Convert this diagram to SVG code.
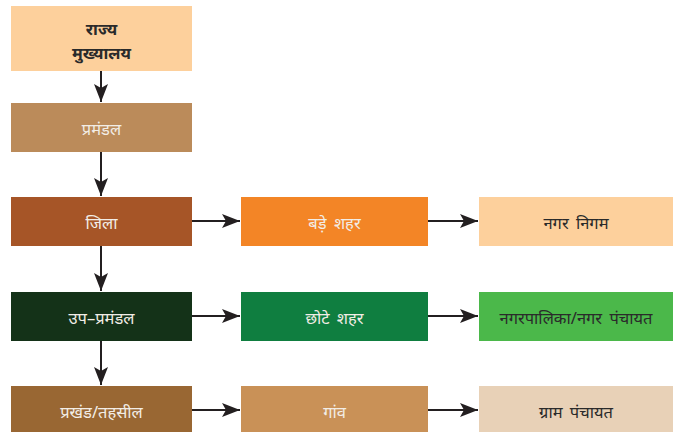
<svg xmlns="http://www.w3.org/2000/svg" width="674" height="432" viewBox="0 0 674 432">
<style>
text{font-family:"Noto Sans","Noto Sans Devanagari","Lohit Devanagari",sans-serif;font-size:16.5px;text-anchor:middle;dominant-baseline:central;word-spacing:3px}
.lt{fill:#f2ede6}
.dk{fill:#2a2a2a}
.c{stroke:#231f20;stroke-width:2;fill:none}
</style>
<defs>
<marker id="ah" markerUnits="userSpaceOnUse" markerWidth="20" markerHeight="16" viewBox="0 0 20 16" refX="18" refY="8" orient="auto">
<path d="M0,1 L18,8 L0,15 L4,8 Z" fill="#231f20"/>
</marker>
</defs>
<rect width="674" height="432" fill="#fff"/>
<g id="connectors">
<line class="c" x1="101" y1="71" x2="101" y2="102" marker-end="url(#ah)"/>
<line class="c" x1="101" y1="152" x2="101" y2="196" marker-end="url(#ah)"/>
<line class="c" x1="101" y1="246" x2="101" y2="291" marker-end="url(#ah)"/>
<line class="c" x1="101" y1="341" x2="101" y2="385" marker-end="url(#ah)"/>
<line class="c" x1="192" y1="221" x2="240" y2="221" marker-end="url(#ah)"/>
<line class="c" x1="428" y1="221" x2="478" y2="221" marker-end="url(#ah)"/>
<line class="c" x1="192" y1="316" x2="240" y2="316" marker-end="url(#ah)"/>
<line class="c" x1="428" y1="316" x2="478" y2="316" marker-end="url(#ah)"/>
<line class="c" x1="192" y1="410" x2="240" y2="410" marker-end="url(#ah)"/>
<line class="c" x1="428" y1="410" x2="478" y2="410" marker-end="url(#ah)"/>
</g>
<g id="rajya">
<rect x="11" y="6" width="181" height="65" fill="#fdd09c"/>
<text class="dk" x="101.5" y="28" font-weight="bold" font-size="17">राज्य</text>
<text class="dk" x="101.5" y="52" font-weight="bold" font-size="17">मुख्यालय</text>
</g>
<g id="pramandal">
<rect x="11" y="103" width="181" height="49" fill="#bb8b5a"/>
<text class="lt" x="101.5" y="128">प्रमंडल</text>
</g>
<g id="jila">
<rect x="11" y="197" width="181" height="49" fill="#a65527"/>
<text class="lt" x="101.5" y="222">जिला</text>
</g>
<g id="bade-shahar">
<rect x="241" y="197" width="187" height="49" fill="#f38526"/>
<text class="lt" x="334.5" y="222">बड़े शहर</text>
</g>
<g id="nagar-nigam">
<rect x="479" y="197" width="194" height="49" fill="#fdd09c"/>
<text class="dk" x="576" y="222">नगर निगम</text>
</g>
<g id="up-pramandal">
<rect x="11" y="292" width="181" height="49" fill="#143218"/>
<text class="lt" x="101.5" y="317">उप–प्रमंडल</text>
</g>
<g id="chhote-shahar">
<rect x="241" y="292" width="187" height="49" fill="#0f7e40"/>
<text class="lt" x="334.5" y="317">छोटे शहर</text>
</g>
<g id="nagarpalika">
<rect x="479" y="292" width="194" height="49" fill="#4bb84a"/>
<text class="dk" x="576" y="317">नगरपालिका/नगर पंचायत</text>
</g>
<g id="prakhand">
<rect x="11" y="386" width="181" height="46" fill="#996733"/>
<text class="lt" x="101.5" y="411">प्रखंड/तहसील</text>
</g>
<g id="gaon">
<rect x="241" y="386" width="187" height="46" fill="#c99157"/>
<text class="lt" x="334.5" y="411">गांव</text>
</g>
<g id="gram-panchayat">
<rect x="479" y="386" width="194" height="46" fill="#e8d1b7"/>
<text class="dk" x="576" y="411">ग्राम पंचायत</text>
</g>
</svg>
